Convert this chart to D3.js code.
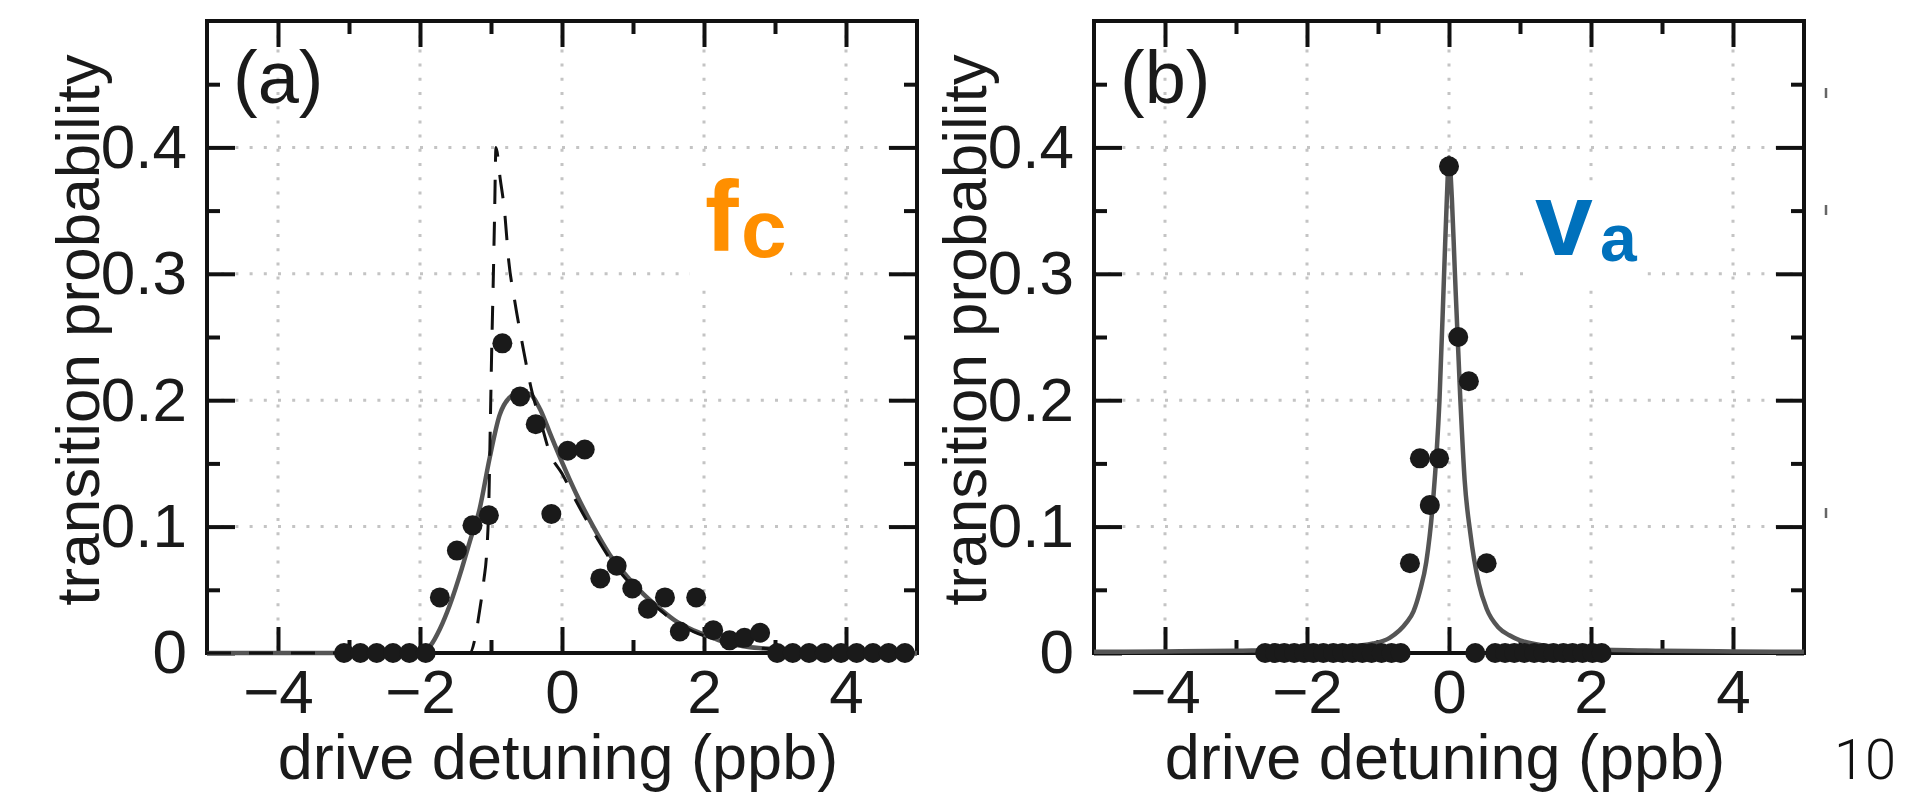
<!DOCTYPE html>
<html><head><meta charset="utf-8">
<script src="https://cdn.jsdelivr.net/npm/d3@7"></script>
<style>body{margin:0;background:#fff}svg{display:block}</style>
</head><body>
<svg id="c" width="1906" height="795"></svg>
<script>
// ---------- data ----------
const xTicks = [-4, -2, 0, 2, 4];
const xTickLabels = ["\u22124", "\u22122", "0", "2", "4"];
const xMinor = [-3, -1, 1, 3];
const yTicks = [0, 0.1, 0.2, 0.3, 0.4];
const yTickLabels = ["0", "0.1", "0.2", "0.3", "0.4"];
const yMinor = [0.05, 0.15, 0.25, 0.35, 0.45];
const xLabel = "drive detuning (ppb)";
const yLabel = "transition probability";

// panel (a): f_c
const aDotX = [-3.07,-2.84,-2.61,-2.38,-2.15,-1.92,-1.72,-1.48,-1.26,-1.03,-0.84,-0.59,-0.37,-0.15,0.08,0.32,0.54,0.77,0.99,1.21,1.45,1.66,1.89,2.13,2.36,2.57,2.79,3.03,3.25,3.48,3.70,3.93,4.15,4.38,4.60,4.83];
const aDotY = [0,0,0,0,0,0,0.044,0.081,0.101,0.109,0.245,0.203,0.181,0.110,0.160,0.161,0.059,0.069,0.051,0.035,0.044,0.017,0.044,0.018,0.010,0.012,0.016,0,0,0,0,0,0,0,0,0];
const aFitX = [-5,-2.0,-1.9,-1.85,-1.72,-1.58,-1.41,-1.30,-1.16,-1.02,-0.88,-0.74,-0.60,-0.46,-0.31,-0.17,0,0.2,0.44,0.67,0.91,1.14,1.38,1.61,1.85,2.08,2.31,2.6,3.0,3.5,4.0,5];
const aFitY = [0,0,0.003,0.006,0.019,0.038,0.067,0.088,0.114,0.154,0.188,0.202,0.206,0.205,0.193,0.174,0.151,0.126,0.100,0.078,0.061,0.047,0.035,0.025,0.018,0.013,0.008,0.005,0.003,0.0015,0.0005,0];
const aIdealX = [-5,-1.3,-1.22,-1.17,-1.1,-1.06,-1.03,-1.01,-0.99,-0.97,-0.95,-0.93,-0.87,-0.81,-0.75,-0.67,-0.55,-0.42,-0.3,-0.17,0,0.2,0.44,0.67,0.91,1.14,1.38,1.61,1.85,2.08,2.31,2.6,3.0,3.5,4.0,5];
const aIdealY = [0,0,0.013,0.03,0.058,0.08,0.12,0.18,0.24,0.29,0.345,0.40,0.375,0.35,0.31,0.28,0.242,0.206,0.183,0.158,0.142,0.12,0.096,0.075,0.058,0.045,0.034,0.024,0.017,0.012,0.008,0.005,0.003,0.0015,0.0005,0];

// panel (b): v_a
const bDotX = [-2.59,-2.45,-2.32,-2.18,-2.04,-1.91,-1.77,-1.63,-1.50,-1.36,-1.22,-1.09,-0.95,-0.81,-0.68,-0.55,-0.41,-0.27,-0.14,0.0,0.13,0.28,0.37,0.53,0.65,0.79,0.92,1.06,1.20,1.33,1.47,1.61,1.74,1.88,2.02,2.15];
const bDotY = [0,0,0,0,0,0,0,0,0,0,0,0,0,0,0,0.071,0.154,0.117,0.154,0.385,0.250,0.215,0,0.071,0,0,0,0,0,0,0,0,0,0,0,0];
const bFitX = [-5,-4,-3,-2,-1.54,-1.07,-0.835,-0.6,-0.5,-0.41,-0.32,-0.225,-0.134,-0.066,-0.03,0.0,0.04,0.08,0.16,0.22,0.30,0.42,0.53,0.7,0.85,1.0,1.5,2.0,3.0,4.0,5.0];
const bFitY = [0.001,0.0012,0.0018,0.003,0.0045,0.0075,0.012,0.024,0.033,0.049,0.072,0.12,0.2,0.305,0.36,0.392,0.36,0.305,0.2,0.137,0.095,0.055,0.035,0.02,0.014,0.01,0.0048,0.003,0.0018,0.0012,0.001];

const edgeMarksY = [93, 210, 513];

// ---------- layout ----------
const svg = d3.select("#c");
const FONT = "'Liberation Sans', Arial, Helvetica, sans-serif";
const yTop = 21, yBot = 653;
const panels = [
  {x0: 207, x1: 917, tag: "(a)", dotsX: aDotX, dotsY: aDotY,
   curves: [{X: aFitX, Y: aFitY, dashed: false}, {X: aIdealX, Y: aIdealY, dashed: true}],
   lab: {main: "f", sub: "c", color: "#FF8F00", bg: [690, 172, 100, 108],
         mx: 705, my: 251, ms: 101, sx: 741, sy: 257, ss: 82}},
  {x0: 1094, x1: 1804, tag: "(b)", dotsX: bDotX, dotsY: bDotY,
   curves: [{X: bFitX, Y: bFitY, dashed: false}],
   lab: {main: "v", sub: "a", color: "#0071BC", bg: [1531, 190, 108, 90],
         mx: 1535, my: 255, ms: 104, sx: 1600, sy: 261, ss: 66}}
];

panels.forEach(p => {
  const x = d3.scaleLinear().domain([-5, 5]).range([p.x0, p.x1]);
  const y = d3.scaleLinear().domain([0, 0.5]).range([yBot, yTop]);
  const g = svg.append("g");

  // grid
  const grid = g.append("g").attr("stroke", "#c4c4c4").attr("stroke-width", 3)
    .attr("stroke-dasharray", "3 11.2");
  grid.selectAll("line.v").data(xTicks).join("line").attr("class", "v")
    .attr("x1", d => x(d)).attr("x2", d => x(d)).attr("y1", y(0.5)).attr("y2", y(0));
  grid.selectAll("line.h").data(yTicks.filter(d => d > 0)).join("line").attr("class", "h")
    .attr("y1", d => y(d)).attr("y2", d => y(d)).attr("x1", x(-5)).attr("x2", x(5));

  // label background
  g.append("rect").attr("x", p.lab.bg[0]).attr("y", p.lab.bg[1])
    .attr("width", p.lab.bg[2]).attr("height", p.lab.bg[3]).attr("fill", "#fff");

  // axes (inward ticks)
  const styleAxis = sel => {
    sel.select(".domain").remove();
    sel.selectAll(".tick line").attr("stroke", "#111").attr("stroke-width", 4);
    sel.selectAll(".tick text").attr("fill", "#1a1a1a")
      .style("font-family", FONT).style("font-size", "62px");
  };
  g.append("g").attr("transform", `translate(0,${y(0)})`)
    .call(d3.axisBottom(x).tickValues(xTicks).tickSize(-26).tickPadding(16)
      .tickFormat((d, i) => xTickLabels[i])).call(styleAxis);
  g.append("g").attr("transform", `translate(0,${y(0)})`)
    .call(d3.axisBottom(x).tickValues(xMinor).tickSize(-13).tickFormat("")).call(styleAxis);
  g.append("g").attr("transform", `translate(0,${y(0.5)})`)
    .call(d3.axisTop(x).tickValues(xTicks).tickSize(-26).tickFormat("")).call(styleAxis);
  g.append("g").attr("transform", `translate(0,${y(0.5)})`)
    .call(d3.axisTop(x).tickValues(xMinor).tickSize(-13).tickFormat("")).call(styleAxis);
  g.append("g").attr("transform", `translate(${x(-5)},0)`)
    .call(d3.axisLeft(y).tickValues(yTicks).tickSize(-28).tickPadding(20)
      .tickFormat((d, i) => yTickLabels[i])).call(styleAxis);
  g.append("g").attr("transform", `translate(${x(-5)},0)`)
    .call(d3.axisLeft(y).tickValues(yMinor).tickSize(-13).tickFormat("")).call(styleAxis);
  g.append("g").attr("transform", `translate(${x(5)},0)`)
    .call(d3.axisRight(y).tickValues(yTicks).tickSize(-28).tickFormat("")).call(styleAxis);
  g.append("g").attr("transform", `translate(${x(5)},0)`)
    .call(d3.axisRight(y).tickValues(yMinor).tickSize(-13).tickFormat("")).call(styleAxis);

  // frame
  g.append("rect").attr("x", x(-5)).attr("y", y(0.5))
    .attr("width", x(5) - x(-5)).attr("height", y(0) - y(0.5))
    .attr("fill", "none").attr("stroke", "#111").attr("stroke-width", 4);

  // curves
  const line = d3.line().x(d => x(d[0])).y(d => y(d[1])).curve(d3.curveMonotoneX);
  p.curves.forEach(c => {
    const pts = c.X.map((v, i) => [v, c.Y[i]]);
    g.append("path").attr("d", line(pts)).attr("fill", "none")
      .attr("stroke", c.dashed ? "#111" : "#555")
      .attr("stroke-width", c.dashed ? 3 : 4.5)
      .attr("stroke-dasharray", c.dashed ? "24 18" : null)
      .attr("stroke-linejoin", "round");
  });

  // dots
  g.selectAll("circle.dot").data(p.dotsX.map((v, i) => [v, p.dotsY[i]])).join("circle")
    .attr("class", "dot").attr("cx", d => x(d[0])).attr("cy", d => y(d[1]))
    .attr("r", 10).attr("fill", "#1a1a1a");

  // panel tag
  g.append("text").attr("x", x(-5) + 26).attr("y", 103).text(p.tag)
    .style("font-family", FONT).style("font-size", "74px").attr("fill", "#1a1a1a");

  // axis labels
  g.append("text").attr("x", (x(-5) + x(5)) / 2 - 4).attr("y", 779).attr("text-anchor", "middle")
    .text(xLabel).style("font-family", FONT).style("font-size", "63px").attr("fill", "#1a1a1a");
  g.append("text").attr("transform", `translate(${x(-5) - 108},330) rotate(-90)`)
    .attr("text-anchor", "middle").text(yLabel)
    .style("font-family", FONT).style("font-size", "62px").attr("fill", "#1a1a1a");

  // coloured symbol label
  const L = p.lab;
  g.append("text").attr("x", L.mx).attr("y", L.my).text(L.main)
    .style("font-family", FONT).style("font-weight", "bold").style("font-size", L.ms + "px")
    .attr("fill", L.color);
  g.append("text").attr("x", L.sx).attr("y", L.sy).text(L.sub)
    .style("font-family", FONT).style("font-weight", "bold").style("font-size", L.ss + "px")
    .attr("fill", L.color);
});

// small marks at the right edge and the page number
svg.selectAll("line.edge").data(edgeMarksY).join("line").attr("class", "edge")
  .attr("x1", 1826).attr("x2", 1826).attr("y1", d => d - 5).attr("y2", d => d + 5)
  .attr("stroke", "#666").attr("stroke-width", 2.5);
svg.append("text").attr("x", 1834).attr("y", 779).text("10")
  .style("font-family", "Roboto, 'Liberation Sans', sans-serif").style("font-weight", "300")
  .style("font-size", "56px").attr("fill", "#111");
</script>
</body></html>
